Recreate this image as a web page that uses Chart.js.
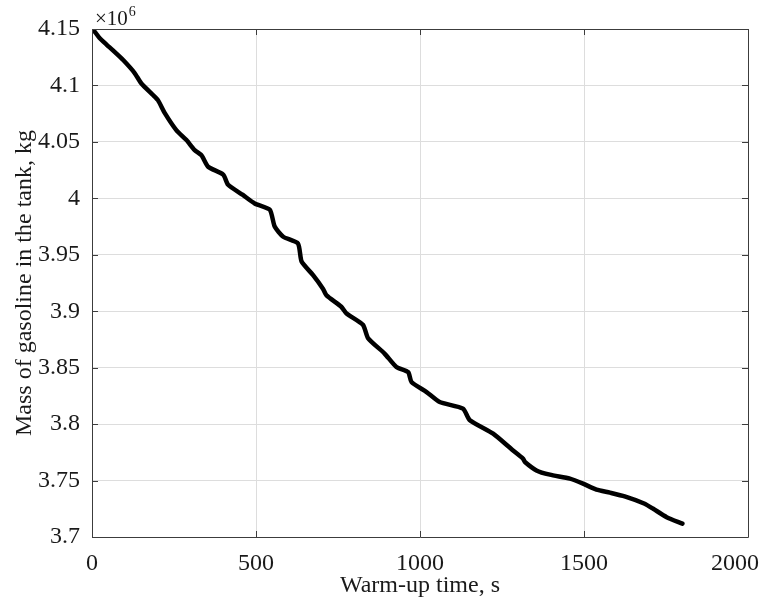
<!DOCTYPE html>
<html>
<head>
<meta charset="utf-8">
<script src="https://cdn.jsdelivr.net/npm/chart.js@4/dist/chart.umd.min.js"></script>
<style>
  html, body { margin: 0; padding: 0; background: #ffffff; }
  #wrap { width: 762px; height: 603px; position: relative; }
</style>
</head>
<body>
<div id="wrap"><canvas id="c" width="762" height="603"></canvas></div>
<script>
// Warm-up time (s) and gasoline mass in the tank (×10^6 kg)
const timeS = [
  0, 10, 23, 45, 64, 95, 130, 150, 186, 201, 222, 257, 288, 313, 334, 354,
  400, 415, 460, 496, 542, 557, 583, 628, 639, 674, 704, 715, 760, 776, 826,
  842, 892, 928, 964, 974, 1020, 1060, 1131, 1152, 1223, 1280, 1314, 1320,
  1355, 1396, 1457, 1497, 1538, 1579, 1624, 1685, 1711, 1752, 1800
];
const massE6 = [
  4.150, 4.147, 4.142, 4.136, 4.131, 4.1225, 4.111, 4.102, 4.0915, 4.087, 4.0755, 4.0605, 4.0516, 4.0427, 4.038, 4.028,
  4.021, 4.012, 4.003, 3.9955, 3.990, 3.975, 3.966, 3.960, 3.944, 3.932, 3.920, 3.914, 3.904, 3.898, 3.888,
  3.876, 3.8625, 3.8506, 3.846, 3.8373, 3.8284, 3.8196, 3.8137, 3.8034, 3.7915, 3.7775, 3.7694, 3.7664,
  3.759, 3.7552, 3.7517, 3.7473, 3.742, 3.7393, 3.736, 3.7295, 3.725, 3.7176, 3.7118
];

const xTicks = [0, 500, 1000, 1500, 2000];
const xTickLabels = ['0', '500', '1000', '1500', '2000'];
const yTicks = [3.7, 3.75, 3.8, 3.85, 3.9, 3.95, 4.0, 4.05, 4.1, 4.15];
const yTickLabels = ['3.7', '3.75', '3.8', '3.85', '3.9', '3.95', '4', '4.05', '4.1', '4.15'];

const SERIF = '"Liberation Serif", "Times New Roman", serif';
const AXIS_COLOR = '#3c3c3c';
const TEXT_COLOR = '#1a1a1a';
const GRID_COLOR = '#dddddd';
const FONT_SIZE = 24;

// Box with inward tick marks and the exponent label
const boxPlugin = {
  id: 'boxPlugin',
  afterDraw(chart) {
    const { ctx, chartArea: a, scales } = chart;
    ctx.save();
    ctx.strokeStyle = AXIS_COLOR;
    ctx.lineWidth = 1;
    const tl = 6;
    ctx.beginPath();
    xTicks.forEach(v => {
      const px = Math.round(scales.x.getPixelForValue(v)) + 0.5;
      ctx.moveTo(px, a.bottom); ctx.lineTo(px, a.bottom - tl);
      ctx.moveTo(px, a.top); ctx.lineTo(px, a.top + tl);
    });
    yTicks.forEach(v => {
      const py = Math.round(scales.y.getPixelForValue(v)) + 0.5;
      ctx.moveTo(a.left, py); ctx.lineTo(a.left + tl, py);
      ctx.moveTo(a.right, py); ctx.lineTo(a.right - tl, py);
    });
    ctx.stroke();
    ctx.beginPath();
    ctx.rect(Math.round(a.left) + 0.5, Math.round(a.top) + 0.5,
             Math.round(a.right - a.left), Math.round(a.bottom - a.top));
    ctx.stroke();

    // exponent label above the y axis
    ctx.fillStyle = TEXT_COLOR;
    ctx.textBaseline = 'alphabetic';
    ctx.textAlign = 'left';
    ctx.font = '21px ' + SERIF;
    const base = '\u00d710';
    const x0 = a.left + 3;
    const y0 = a.top - 4;
    ctx.fillText(base, x0, y0);
    const w = ctx.measureText(base).width;
    ctx.font = '14px ' + SERIF;
    ctx.fillText('6', x0 + w + 1, y0 - 9);
    ctx.restore();
  }
};

// keep the last x tick label inside the canvas
function keepLastLabelInside(scale) {
  if (scale._insidePatched) return;
  scale._insidePatched = true;
  const orig = scale._computeLabelItems;
  if (typeof orig !== 'function') return;
  scale._computeLabelItems = function (chartArea) {
    const items = orig.call(this, chartArea);
    const last = items && items[items.length - 1];
    if (last && last.options && last.options.translation) {
      last.options.textAlign = 'right';
      last.options.translation = [this.chart.width - 3, last.options.translation[1]];
    }
    return items;
  };
}

new Chart(document.getElementById('c'), {
  type: 'line',
  data: {
    datasets: [{
      data: timeS.map((t, i) => ({ x: t, y: massE6[i] })),
      borderColor: '#000000',
      borderWidth: 4.5,
      pointRadius: 0,
      tension: 0.2,
      fill: false,
      borderCapStyle: 'round',
      borderJoinStyle: 'round'
    }]
  },
  options: {
    responsive: false,
    animation: false,
    devicePixelRatio: 1,
    layout: { padding: { left: 0, right: 14, top: 29, bottom: 0 } },
    plugins: { legend: { display: false }, tooltip: { enabled: false } },
    scales: {
      x: {
        type: 'linear',
        min: 0, max: 2000,
        afterFit(scale) {
          scale.height = 66;
          scale.paddingLeft = 0;
          scale.paddingRight = 0;
        },
        afterUpdate: keepLastLabelInside,
        afterBuildTicks(scale) { scale.ticks = xTicks.map(v => ({ value: v })); },
        grid: { color: GRID_COLOR, drawTicks: false, lineWidth: 1 },
        border: { display: false },
        ticks: {
          color: TEXT_COLOR,
          font: { family: SERIF, size: FONT_SIZE },
          padding: 12,
          maxRotation: 0,
          callback: (v) => xTickLabels[xTicks.indexOf(v)]
        },
        title: {
          display: true,
          text: 'Warm-up time, s',
          color: TEXT_COLOR,
          font: { family: SERIF, size: FONT_SIZE },
          padding: { top: 0, bottom: 3 }
        }
      },
      y: {
        type: 'linear',
        min: 3.7, max: 4.15,
        afterFit(scale) {
          scale.width = 92;
          scale.paddingTop = 0;
          scale.paddingBottom = 0;
        },
        afterBuildTicks(scale) { scale.ticks = yTicks.map(v => ({ value: v })); },
        grid: { color: GRID_COLOR, drawTicks: false, lineWidth: 1 },
        border: { display: false },
        ticks: {
          color: TEXT_COLOR,
          font: { family: SERIF, size: FONT_SIZE },
          padding: 12,
          callback: (v) => {
            const i = yTicks.findIndex(t => Math.abs(t - v) < 1e-9);
            return i >= 0 ? yTickLabels[i] : '';
          }
        },
        title: {
          display: true,
          text: 'Mass of gasoline in the tank, kg',
          color: TEXT_COLOR,
          font: { family: SERIF, size: FONT_SIZE },
          padding: { top: 10, bottom: 0 }
        }
      }
    }
  },
  plugins: [boxPlugin]
});
</script>
</body>
</html>
